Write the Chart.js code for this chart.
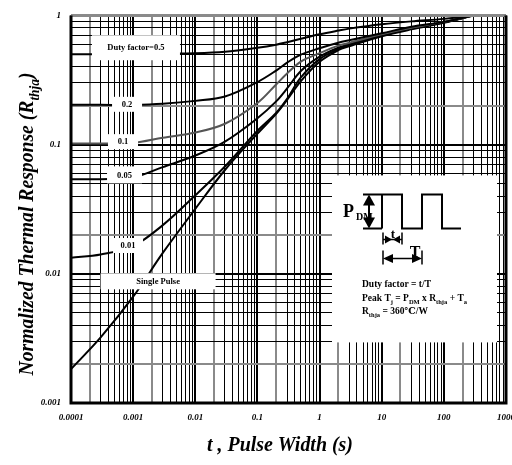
<!DOCTYPE html>
<html>
<head>
<meta charset="utf-8">
<script src="https://cdn.jsdelivr.net/npm/chart.js@4.4.0/dist/chart.umd.min.js"></script>
<style>
html, body { margin: 0; padding: 0; background: #fff; overflow: hidden; width: 512px; height: 465px; }
#wrap { position: relative; width: 512px; height: 465px; overflow: hidden; }
#myChart { position: absolute; left: 0; top: 0; }
</style>
</head>
<body>
<div id="wrap"><canvas id="myChart" width="530" height="465"></canvas></div>
<script>
// pulse width t (s) where the curves were read
var pulseWidth = [0.0001, 0.0003, 0.001, 0.003, 0.01, 0.03, 0.1, 0.2, 0.3, 0.5, 1, 2, 3, 10, 30, 100, 300];

// normalized thermal response per duty factor
var duty05 = [0.501, 0.501, 0.502, 0.506, 0.51, 0.524, 0.562, 0.593, 0.62, 0.659, 0.714, 0.763, 0.79, 0.853, 0.899, 0.94, 1.0];
var duty02 = [0.203, 0.203, 0.203, 0.207, 0.218, 0.236, 0.305, 0.374, 0.431, 0.497, 0.557, 0.614, 0.642, 0.727, 0.816, 0.891, 1.0];
var duty01 = [0.102, 0.102, 0.103, 0.113, 0.124, 0.145, 0.21, 0.292, 0.355, 0.439, 0.51, 0.583, 0.614, 0.714, 0.801, 0.891, 1.0];
var duty005 = [0.054, 0.054, 0.0557, 0.067, 0.0823, 0.1055, 0.16, 0.216, 0.272, 0.371, 0.479, 0.562, 0.598, 0.702, 0.794, 0.884, 1.0];
var duty001 = [0.0133, 0.0141, 0.0164, 0.0238, 0.0405, 0.0677, 0.128, 0.176, 0.226, 0.331, 0.459, 0.548, 0.588, 0.696, 0.787, 0.884, 1.0];
var singlePulse = [0.00183, 0.00322, 0.00665, 0.0145, 0.0318, 0.0636, 0.1215, 0.173, 0.222, 0.31, 0.438, 0.538, 0.577, 0.69, 0.78, 0.876, 1.0];

var xTickLabels = ["0.0001", "0.001", "0.01", "0.1", "1", "10", "100", "1000"];
var yTickLabels = ["0.001", "0.01", "0.1", "1"];

var curveNames = ["Duty factor=0.5", "0.2", "0.1", "0.05", "0.01", "Single Pulse"];
var curveColors = ["#000", "#000", "#555", "#000", "#000", "#000"];

// where the white curve labels sit (data coords) and their box size
var labelBoxes = [
    { x: 0.00111, y: 0.562, w: 88, h: 25 },
    { x: 0.000798, y: 0.205, w: 30, h: 15 },
    { x: 0.000687, y: 0.1054, w: 30, h: 15 },
    { x: 0.000727, y: 0.0583, w: 35, h: 17 },
    { x: 0.000828, y: 0.01656, w: 30, h: 15 },
    { x: 0.00252, y: 0.00875, w: 115, h: 16 }
];

// plot frame wanted on the page
var area = { left: 71, top: 13, right: 506, bottom: 403 };

var serif = '"Liberation Serif", "DejaVu Serif", serif';

function toPoints(ys) {
    return ys.map(function (y, i) { return { x: pulseWidth[i], y: y }; });
}

function decadeTicks(lo, hi) {
    var out = [];
    for (var e = lo; e < hi; e++) {
        for (var s = 1; s <= 9; s++) out.push(s * Math.pow(10, e));
    }
    out.push(Math.pow(10, hi));
    return out;
}

function sigOf(v) {
    var e = Math.floor(Math.log10(v) + 1e-9);
    return Math.round(v / Math.pow(10, e));
}

function gridColor(ctx) {
    if (!ctx.tick) return "#000";
    return sigOf(ctx.tick.value) == 2 ? "#8a8a8a" : "#000";
}
function gridWidth(ctx) {
    if (!ctx.tick) return 1;
    var s = sigOf(ctx.tick.value);
    return (s == 1 || s == 2) ? 2 : 1;
}

// text with subscripts: runs = [[text, isSub], ...]
function drawRuns(ctx, runs, x, y, size, opts) {
    opts = opts || {};
    var st = opts.italic ? "italic " : "";
    var fMain = st + "bold " + size + "px " + serif;
    var fSub = st + "bold " + (size * 0.68).toFixed(1) + "px " + serif;
    var total = 0;
    runs.forEach(function (r) { ctx.font = r[1] ? fSub : fMain; total += ctx.measureText(r[0]).width; });
    var k = opts.fit ? opts.fit / total : 1;
    ctx.save();
    ctx.translate(x, y);
    ctx.scale(k, 1);
    var cur = opts.align == "center" ? -total / 2 : 0;
    ctx.textAlign = "left";
    ctx.textBaseline = "alphabetic";
    runs.forEach(function (r) {
        ctx.font = r[1] ? fSub : fMain;
        ctx.fillText(r[0], cur, r[1] ? size * 0.28 : 0);
        cur += ctx.measureText(r[0]).width;
    });
    ctx.restore();
}

function arrowHead(ctx, tx, ty, dx, dy, len, half) {
    // tip at (tx,ty), pointing along (dx,dy)
    var bx = tx - dx * len, by = ty - dy * len;
    ctx.beginPath();
    ctx.moveTo(tx, ty);
    ctx.lineTo(bx - dy * half, by + dx * half);
    ctx.lineTo(bx + dy * half, by - dx * half);
    ctx.closePath();
    ctx.fill();
}

var overlay = {
    id: "overlay",
    afterDatasetsDraw: function (chart) {
        var ctx = chart.ctx, xs = chart.scales.x, ys = chart.scales.y, a = chart.chartArea;
        ctx.save();
        // curve labels
        labelBoxes.forEach(function (b, i) {
            var cx = xs.getPixelForValue(b.x), cy = ys.getPixelForValue(b.y);
            ctx.fillStyle = "#fff";
            ctx.fillRect(cx - b.w / 2, cy - b.h / 2, b.w, b.h);
            ctx.fillStyle = "#000";
            ctx.font = "bold 8.5px " + serif;
            ctx.textAlign = "center";
            ctx.textBaseline = "middle";
            ctx.fillText(curveNames[i], cx, cy + 0.5);
        });

        // inset with the pulse diagram
        var ox = a.right - 174, oy = a.top + 160;
        ctx.fillStyle = "#fff";
        ctx.fillRect(ox, oy, 165, 167);
        ctx.translate(ox, oy);
        ctx.strokeStyle = "#000";
        ctx.fillStyle = "#000";
        ctx.lineWidth = 2;
        ctx.beginPath();
        ctx.moveTo(50, 53); ctx.lineTo(50, 19); ctx.lineTo(70, 19); ctx.lineTo(70, 53);
        ctx.lineTo(90, 53); ctx.lineTo(90, 19); ctx.lineTo(110, 19); ctx.lineTo(110, 53);
        ctx.lineTo(129, 53);
        ctx.moveTo(31, 19); ctx.lineTo(50, 19);
        ctx.moveTo(31, 53); ctx.lineTo(50, 53);
        ctx.stroke();

        ctx.font = "bold 18px " + serif;
        ctx.textAlign = "left";
        ctx.textBaseline = "alphabetic";
        ctx.fillText("P", 11, 42);
        ctx.font = "bold 10px " + serif;
        ctx.fillText("DM", 24, 45);

        // P_DM double arrow
        ctx.lineWidth = 2;
        ctx.beginPath(); ctx.moveTo(37, 27); ctx.lineTo(37, 45); ctx.stroke();
        arrowHead(ctx, 37, 19, 0, -1, 11, 6);
        arrowHead(ctx, 37, 53, 0, 1, 11, 6);

        // t marker
        ctx.lineWidth = 1.5;
        ctx.beginPath();
        ctx.moveTo(51, 57); ctx.lineTo(51, 69);
        ctx.moveTo(70, 57); ctx.lineTo(70, 69);
        ctx.moveTo(51, 64); ctx.lineTo(70, 64);
        ctx.stroke();
        arrowHead(ctx, 60, 64, 1, 0, 7, 4);
        arrowHead(ctx, 61, 64, -1, 0, 7, 4);
        ctx.font = "bold 13px " + serif;
        ctx.textAlign = "center";
        ctx.fillText("t", 61, 63);

        // T marker
        ctx.beginPath();
        ctx.moveTo(51, 75); ctx.lineTo(51, 89);
        ctx.moveTo(90, 75); ctx.lineTo(90, 89);
        ctx.moveTo(58, 83); ctx.lineTo(83, 83);
        ctx.stroke();
        arrowHead(ctx, 51, 83, -1, 0, 10, 4.5);
        arrowHead(ctx, 90, 83, 1, 0, 10, 4.5);
        ctx.font = "bold 16px " + serif;
        ctx.fillText("T", 83, 82);

        drawRuns(ctx, [["Duty factor = t/T", 0]], 30, 112, 9.5);
        drawRuns(ctx, [["Peak T", 0], ["j", 1], [" = P", 0], ["DM", 1], [" x R", 0], ["thja", 1], [" + T", 0], ["a", 1]], 30, 126, 9.5);
        drawRuns(ctx, [["R", 0], ["thja", 1], [" = 360\u2103/W", 0]], 30, 139, 9.5);
        ctx.restore();
    },
    afterDraw: function (chart) {
        var ctx = chart.ctx, a = chart.chartArea;
        ctx.save();
        // frame
        ctx.lineWidth = 3;
        ctx.strokeStyle = "#8a8a8a";
        ctx.beginPath(); ctx.moveTo(a.left, a.top); ctx.lineTo(a.right, a.top); ctx.stroke();
        ctx.strokeStyle = "#000";
        ctx.beginPath();
        ctx.moveTo(a.right, a.top); ctx.lineTo(a.right, a.bottom);
        ctx.lineTo(a.left, a.bottom); ctx.lineTo(a.left, a.top);
        ctx.stroke();

        // axis titles
        ctx.fillStyle = "#000";
        drawRuns(ctx, [["t , Pulse Width (s)", 0]], 280, 451, 20, { italic: true, align: "center", fit: 146 });
        ctx.translate(27, 224);
        ctx.rotate(-Math.PI / 2);
        drawRuns(ctx, [["Normalized Thermal Response (R", 0], ["thja", 1], [")", 0]], 0, 6, 20, { italic: true, align: "center", fit: 303 });
        ctx.restore();
    }
};

var tickFont = { family: serif, size: 9, style: "italic", weight: "bold" };

var chart = new Chart("myChart", {
    type: "line",
    data: {
        datasets: [duty05, duty02, duty01, duty005, duty001, singlePulse].map(function (ys, i) {
            return {
                label: curveNames[i],
                data: toPoints(ys),
                borderColor: curveColors[i],
                borderWidth: 2,
                pointRadius: 0,
                fill: false,
                tension: 0.35
            };
        })
    },
    options: {
        responsive: false,
        animation: false,
        devicePixelRatio: 1,
        layout: { padding: { top: 13, right: 24, left: 0, bottom: 0 } },
        plugins: {
            legend: { display: false },
            tooltip: { enabled: false }
        },
        scales: {
            x: {
                type: "logarithmic",
                min: 0.0001,
                max: 1000,
                afterBuildTicks: function (scale) {
                    scale.ticks = decadeTicks(-4, 3).map(function (v) { return { value: v }; });
                },
                afterFit: function (scale) { scale.height = 62; },
                border: { display: false },
                grid: { color: gridColor, lineWidth: gridWidth, drawTicks: false },
                ticks: {
                    autoSkip: false,
                    maxRotation: 0,
                    padding: 9,
                    color: "#000",
                    font: tickFont,
                    callback: function (v) {
                        var e = Math.log10(v);
                        if (Math.abs(e - Math.round(e)) > 1e-6) return "";
                        return xTickLabels[Math.round(e) + 4];
                    }
                }
            },
            y: {
                type: "logarithmic",
                min: 0.001,
                max: 1,
                afterBuildTicks: function (scale) {
                    scale.ticks = decadeTicks(-3, 0).map(function (v) { return { value: v }; });
                },
                afterFit: function (scale) { scale.width = 71; },
                border: { display: false },
                grid: { color: gridColor, lineWidth: gridWidth, drawTicks: false },
                ticks: {
                    autoSkip: false,
                    padding: 10,
                    color: "#000",
                    font: tickFont,
                    callback: function (v) {
                        var e = Math.log10(v);
                        if (Math.abs(e - Math.round(e)) > 1e-6) return "";
                        return yTickLabels[Math.round(e) + 3];
                    }
                }
            }
        }
    },
    plugins: [overlay]
});

// nudge the layout padding until the plot frame sits where the reference has it
for (var pass = 0; pass < 3; pass++) {
    var pad = chart.options.layout.padding;
    var ca = chart.chartArea;
    pad.left = Math.max(0, pad.left + area.left - ca.left);
    pad.top = Math.max(0, pad.top + area.top - ca.top);
    pad.right = Math.max(0, pad.right + ca.right - area.right);
    pad.bottom = Math.max(0, pad.bottom + ca.bottom - area.bottom);
    chart.update();
}
</script>
</body>
</html>
